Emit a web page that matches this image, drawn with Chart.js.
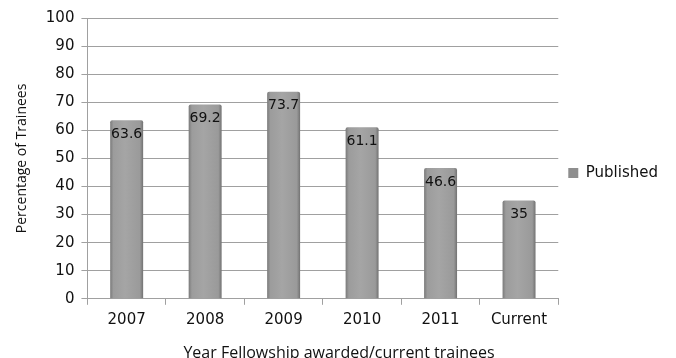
<!DOCTYPE html>
<html lang="en">
<head>
    <meta charset="UTF-8">
    <title>Published trainees</title>
    <script src="https://cdn.jsdelivr.net/npm/chart.js"></script>
    <style>
        body {
            margin: 0;
            background-color: #fff;
        }
        #wrap {
            width: 676px;
            height: 358px;
        }
    </style>
</head>
<body>
    <div id="wrap">
        <canvas id="pubChart" width="676" height="358"></canvas>
    </div>

    <script>
        // data
        const categories = ['2007', '2008', '2009', '2010', '2011', 'Current'];
        const published = [63.6, 69.2, 73.7, 61.1, 46.6, 35];
        const seriesName = 'Published';
        const yTitle = 'Percentage of Trainees';
        const xTitle = 'Year Fellowship awarded/current trainees';

        const gridColor = '#a0a0a0';
        const barPct = 0.42;

        // grey bar with darker rims, like a shaded cylinder
        function barGradient(context) {
            const chart = context.chart;
            const area = chart.chartArea;
            const xs = chart.scales.x;
            if (!area || !xs || context.dataIndex === undefined) return '#9e9e9e';
            const cx = xs.getPixelForValue(context.dataIndex);
            const half = (area.width / categories.length) * barPct / 2;
            const g = chart.ctx.createLinearGradient(cx - half, 0, cx + half, 0);
            g.addColorStop(0, '#7a7a7a');
            g.addColorStop(0.1, '#9c9c9c');
            g.addColorStop(0.45, '#a5a5a5');
            g.addColorStop(0.9, '#9a9a9a');
            g.addColorStop(1, '#727272');
            return g;
        }

        // value labels just inside the top of each bar
        const valueLabels = {
            id: 'valueLabels',
            afterDatasetsDraw(chart) {
                const ctx = chart.ctx;
                const meta = chart.getDatasetMeta(0);
                ctx.save();
                ctx.font = '14px "DejaVu Sans"';
                ctx.fillStyle = '#111';
                ctx.textAlign = 'center';
                ctx.textBaseline = 'middle';
                meta.data.forEach((bar, i) => {
                    ctx.fillText(String(published[i]), bar.x, bar.y + 14);
                });
                ctx.restore();
            }
        };

        const ctx = document.getElementById('pubChart').getContext('2d');

        new Chart(ctx, {
            type: 'bar',
            data: {
                labels: categories,
                datasets: [{
                    label: seriesName,
                    data: published,
                    backgroundColor: barGradient,
                    borderWidth: 0,
                    borderRadius: { topLeft: 2, topRight: 2 },
                    barPercentage: barPct,
                    categoryPercentage: 1
                }]
            },
            options: {
                responsive: false,
                animation: false,
                layout: {
                    padding: { left: 10, right: 8, top: 18, bottom: -5 }
                },
                plugins: {
                    legend: {
                        position: 'right',
                        fullSize: false,
                        title: {
                            // empty spacer that nudges the entry down
                            display: true,
                            text: ' ',
                            font: { size: 1 },
                            padding: { top: 28, bottom: 0 }
                        },
                        labels: {
                            boxWidth: 10,
                            boxHeight: 10,
                            color: '#111',
                            font: { family: 'DejaVu Sans', size: 15 },
                            generateLabels(chart) {
                                return [{
                                    text: seriesName,
                                    fillStyle: '#8e8e8e',
                                    strokeStyle: '#8e8e8e',
                                    fontColor: '#111',
                                    lineWidth: 0,
                                    datasetIndex: 0
                                }];
                            }
                        }
                    },
                    title: {
                        display: true,
                        position: 'bottom',
                        text: xTitle,
                        color: '#111',
                        font: { family: 'Open Sans', size: 16, weight: 'normal' },
                        padding: { top: 9, bottom: 0 }
                    },
                    tooltip: { enabled: false }
                },
                scales: {
                    x: {
                        grid: {
                            drawOnChartArea: false,
                            drawTicks: true,
                            tickLength: 6,
                            color: gridColor
                        },
                        border: { color: gridColor },
                        ticks: {
                            color: '#111',
                            font: { family: 'DejaVu Sans', size: 15 },
                            padding: 6
                        }
                    },
                    y: {
                        min: 0,
                        max: 100,
                        grid: {
                            color: gridColor,
                            tickLength: 6
                        },
                        border: { color: gridColor },
                        ticks: {
                            stepSize: 10,
                            color: '#111',
                            font: { family: 'DejaVu Sans', size: 15 },
                            padding: 7
                        },
                        title: {
                            display: true,
                            text: yTitle,
                            color: '#111',
                            font: { family: 'Open Sans', size: 14 },
                            padding: { top: 4, bottom: 8 }
                        }
                    }
                }
            },
            plugins: [valueLabels]
        });
    </script>
</body>
</html>
